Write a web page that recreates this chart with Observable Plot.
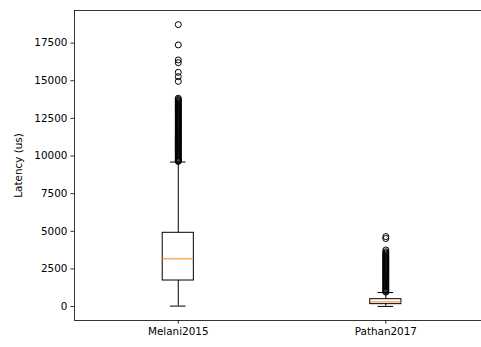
<!DOCTYPE html>
<html>
<head>
<meta charset="utf-8">
<script src="https://cdn.jsdelivr.net/npm/d3@7"></script>
<script src="https://cdn.jsdelivr.net/npm/@observablehq/plot@0.6"></script>
<style>
  html, body { margin: 0; padding: 0; background: #fff; }
  #chart { width: 481px; height: 347px; overflow: hidden; }
</style>
</head>
<body>
<div id="chart"></div>
<script>
// Latency summaries (microseconds) for each implementation
const categories = ["Melani2015", "Pathan2017"];
const q1 = [1730, 160];
const median = [3170, 310];
const q3 = [4900, 490];
const whiskerLow = [30, 10];
const whiskerHigh = [9600, 930];

// Points beyond the whiskers
const outliersMelani = [
  18730, 17380, 16380, 16200, 15560, 15270, 14960,
  13840, 13760, 13700, 13630, 13560, 13500, 13430, 13360, 13300, 13240,
  13170, 13100, 13040, 12970, 12910, 12840, 12780, 12710, 12650, 12580,
  12520, 12450, 12390, 12320, 12260, 12190, 12130, 12060, 12000, 11930,
  11870, 11800, 11740, 11670, 11610, 11540, 11480, 11410, 11350, 11280,
  11220, 11150, 11090, 11020, 10960, 10890, 10830, 10760, 10700, 10630,
  10570, 10500, 10440, 10370, 10310, 10240, 10180, 10110, 10050, 9980,
  9920, 9850, 9790, 9720, 9680, 9640
];
const outliersPathan = [
  4650, 4520, 3760, 3640, 3560, 3490, 3420, 3350, 3280, 3220, 3150, 3090,
  3020, 2960, 2890, 2830, 2760, 2700, 2630, 2570, 2500, 2440, 2370, 2310,
  2240, 2180, 2110, 2050, 1980, 1920, 1850, 1790, 1720, 1660, 1590, 1530,
  1460, 1400, 1330, 1270, 1200, 1140, 1070, 1010, 960
];

const yTicks = [0, 2500, 5000, 7500, 10000, 12500, 15000, 17500];

// Boxes sit at positions 1, 2, ... on a linear x scale
const boxWidth = 0.15;
const capWidth = boxWidth / 2;
const boxes = categories.map((name, i) => ({
  name, pos: i + 1,
  q1: q1[i], median: median[i], q3: q3[i],
  lo: whiskerLow[i], hi: whiskerHigh[i]
}));
const fliers = [
  ...outliersMelani.map(v => ({pos: 1, value: v})),
  ...outliersPathan.map(v => ({pos: 2, value: v}))
];

// 5% padding around the data extent
const yMin = d3.min(whiskerLow);
const yMax = d3.max([...outliersMelani, ...outliersPathan]);
const pad = 0.05 * (yMax - yMin);
const yDomain = [yMin - pad, yMax + pad];
// the axes box runs slightly past the right edge of the page
const xDomain = [0.5, 2.461];

const chart = Plot.plot({
  width: 481,
  height: 347,
  marginLeft: 74,
  marginRight: 0,
  marginTop: 10,
  marginBottom: 27,
  style: {fontFamily: "DejaVu Sans", fontSize: "10.4px", color: "#000", background: "#fff"},
  x: {type: "linear", domain: xDomain},
  y: {domain: yDomain},
  marks: [
    // left, bottom and top spines
    Plot.ruleX([xDomain[0]], {stroke: "#000", strokeWidth: 0.8}),
    Plot.ruleY([yDomain[0]], {stroke: "#000", strokeWidth: 0.8}),
    Plot.ruleY([yDomain[1]], {stroke: "#000", strokeWidth: 0.8}),
    Plot.axisY({ticks: yTicks, tickSize: 3.6, tickPadding: 3.5, strokeWidth: 0.8, label: null, tickFormat: d => String(d)}),
    Plot.axisX({ticks: boxes.map(b => b.pos), tickSize: 3.6, tickPadding: 3.5, strokeWidth: 0.8, label: null,
      tickFormat: p => categories[p - 1]}),
    Plot.text(["Latency (us)"], {frameAnchor: "left", rotate: -90, dx: -56, textAnchor: "middle", lineAnchor: "middle", fill: "#000"}),
    // whiskers
    Plot.ruleX(boxes, {x: "pos", y1: "q3", y2: "hi", stroke: "#000", strokeWidth: 1}),
    Plot.ruleX(boxes, {x: "pos", y1: "lo", y2: "q1", stroke: "#000", strokeWidth: 1}),
    // caps
    Plot.ruleY(boxes, {y: "hi", x1: d => d.pos - capWidth / 2, x2: d => d.pos + capWidth / 2, stroke: "#000", strokeWidth: 1}),
    Plot.ruleY(boxes, {y: "lo", x1: d => d.pos - capWidth / 2, x2: d => d.pos + capWidth / 2, stroke: "#000", strokeWidth: 1}),
    // boxes
    Plot.rect(boxes, {x1: d => d.pos - boxWidth / 2, x2: d => d.pos + boxWidth / 2, y1: "q1", y2: "q3",
      fill: "none", stroke: "#000", strokeWidth: 1}),
    // medians
    Plot.ruleY(boxes, {y: "median", x1: d => d.pos - boxWidth / 2, x2: d => d.pos + boxWidth / 2, stroke: "#ff7f0e", strokeWidth: 1}),
    // outliers
    Plot.dot(fliers, {x: "pos", y: "value", r: 3, stroke: "#000", strokeWidth: 1, fill: "none"})
  ]
});
document.getElementById("chart").append(chart);
</script>
</body>
</html>
